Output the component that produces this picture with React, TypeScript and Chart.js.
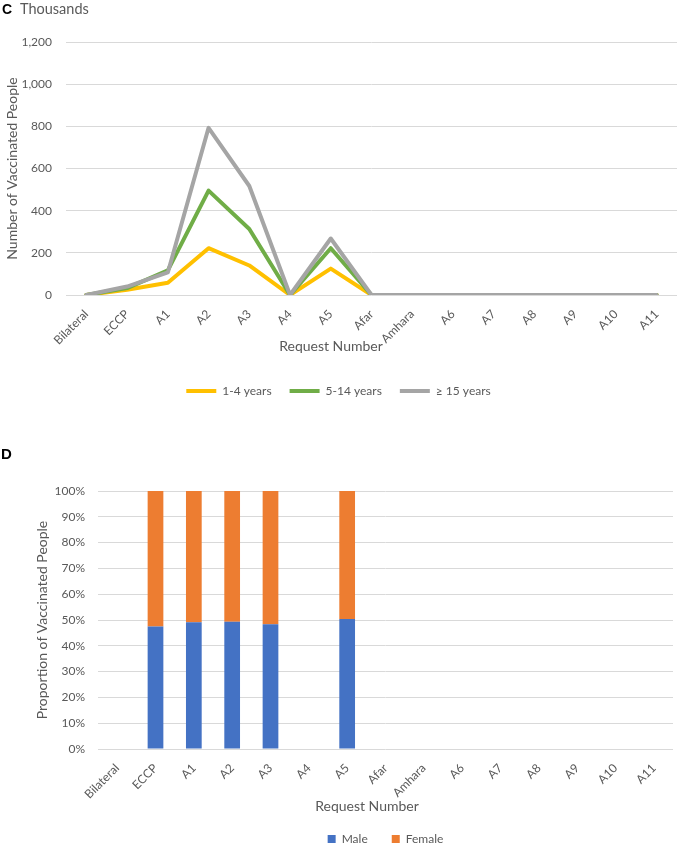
import React, { useEffect, useRef } from 'react';
import { Chart, registerables } from 'chart.js';

Chart.register(...registerables);

// ---------- data ----------
const categories = ['Bilateral', 'ECCP', 'A1', 'A2', 'A3', 'A4', 'A5', 'Afar', 'Amhara', 'A6', 'A7', 'A8', 'A9', 'A10', 'A11'];

// Panel C (thousands of people)
const age1to4 = [0, 25, 58, 222, 140, 0, 125, 0, 0, 0, 0, 0, 0, 0, 0];
const age5to14 = [0, 33, 117, 495, 313, 0, 222, 0, 0, 0, 0, 0, 0, 0, 0];
const age15plus = [0, 40, 107, 793, 517, 0, 268, 0, 0, 0, 0, 0, 0, 0, 0];
const countTicks = [0, 200, 400, 600, 800, 1000, 1200];
const lineSeriesNames = ['1-4 years', '5-14 years', '\u2265 15 years'];

// Panel D (percent)
const malePct = [null, 47.5, 49.1, 49.3, 48.4, null, 50.4, null, null, null, null, null, null, null, null];
const femalePct = [null, 52.5, 50.9, 50.7, 51.6, null, 49.6, null, null, null, null, null, null, null, null];
const pctTicks = [0, 10, 20, 30, 40, 50, 60, 70, 80, 90, 100];
const barSeriesNames = ['Male', 'Female'];

// ---------- styles ----------
const FONT = 'Lato';
const TEXT = '#595959';
const GRID = '#D9D9D9';

const extraText = {
  id: 'extraText',
  afterDraw(chart: any, _args: any, opts: any) {
    const ctx = chart.ctx;
    (opts.items || []).forEach((it: any) => {
      ctx.save();
      ctx.font = it.font;
      ctx.fillStyle = it.color;
      ctx.textAlign = 'center';
      ctx.textBaseline = 'middle';
      ctx.fillText(it.text, it.x, it.y);
      ctx.restore();
    });
  },
};

function legendLabelsNoStroke(chart: any) {
  const base = (Chart as any).defaults.plugins.legend.labels.generateLabels(chart);
  return base.map((l: any) => ({ ...l, lineWidth: 0 }));
}

function LineChartC() {
  const ref = useRef<HTMLCanvasElement | null>(null);
  useEffect(() => {
    if (!ref.current) return;
    const colors = ['#FFC000', '#70AD47', '#A5A5A5'];
    const series = [age1to4, age5to14, age15plus];
    const chart = new Chart(ref.current, {
      type: 'line',
      data: {
        labels: categories,
        datasets: series.map((d, i) => ({
          label: lineSeriesNames[i],
          data: d,
          borderColor: colors[i],
          backgroundColor: colors[i],
          borderWidth: 4,
          pointRadius: 0,
          pointHoverRadius: 0,
          tension: 0,
          borderJoinStyle: 'round',
          borderCapStyle: 'round',
          order: 2 - i,
          fill: false,
        })),
      },
      options: {
        responsive: false,
        animation: false,
        layout: { padding: { top: 42, right: 3, left: 0, bottom: 3 } },
        scales: {
          x: {
            type: 'category',
            offset: true,
            grid: { display: false, drawTicks: false },
            border: { display: false },
            ticks: {
              autoSkip: false,
              minRotation: 45,
              maxRotation: 45,
              padding: 12,
              color: TEXT,
              font: { family: FONT, size: 12 },
            },
            afterFit: (s: any) => { s.height = 72; },
          },
          y: {
            min: 0,
            max: 1200,
            afterBuildTicks: (s: any) => { s.ticks = countTicks.map((v) => ({ value: v })); },
            grid: { color: GRID, lineWidth: 1, drawTicks: false },
            border: { display: false },
            ticks: {
              padding: 14,
              color: TEXT,
              font: { family: FONT, size: 12 },
              callback: (v: any) => Number(v).toLocaleString('en-US'),
            },
            title: {
              display: true,
              text: 'Number of Vaccinated People',
              color: TEXT,
              font: { family: FONT, size: 14 },
              padding: { top: 3.6, bottom: 0 },
            },
            afterFit: (s: any) => { s.width = 66; },
          },
        },
        plugins: {
          legend: {
            position: 'bottom',
            fullSize: true,
            maxHeight: 44,
            labels: {
              boxWidth: 30,
              boxHeight: 4,
              padding: 18,
              color: TEXT,
              font: { family: FONT, size: 12 },
              sort: (a: any, b: any) => a.datasetIndex - b.datasetIndex,
              generateLabels: legendLabelsNoStroke,
            },
          },
          tooltip: { enabled: false },
          extraText: {
            items: [{ text: 'Request Number', x: 331, y: 346, font: `14px ${FONT}`, color: TEXT }],
          },
        } as any,
      } as any,
      plugins: [extraText],
    });
    return () => chart.destroy();
  }, []);
  return <canvas ref={ref} width={680} height={410} style={{ position: 'absolute', left: 0, top: 0 }} />;
}

function BarChartD() {
  const ref = useRef<HTMLCanvasElement | null>(null);
  useEffect(() => {
    if (!ref.current) return;
    const colors = ['#4472C4', '#ED7D31'];
    const series = [malePct, femalePct];
    const chart = new Chart(ref.current, {
      type: 'bar',
      data: {
        labels: categories,
        datasets: series.map((d, i) => ({
          label: barSeriesNames[i],
          data: d,
          backgroundColor: colors[i],
          borderWidth: 0,
          categoryPercentage: 1,
          barPercentage: 0.41,
        })),
      },
      options: {
        responsive: false,
        animation: false,
        layout: { padding: { top: 81, right: 7, left: 0, bottom: 0 } },
        scales: {
          x: {
            stacked: true,
            grid: { display: false, drawTicks: false },
            border: { display: false },
            ticks: {
              autoSkip: false,
              minRotation: 45,
              maxRotation: 45,
              padding: 12,
              color: TEXT,
              font: { family: FONT, size: 12 },
            },
            afterFit: (s: any) => { s.height = 60; },
          },
          y: {
            stacked: true,
            min: 0,
            max: 100,
            afterBuildTicks: (s: any) => { s.ticks = pctTicks.map((v) => ({ value: v })); },
            grid: { color: GRID, lineWidth: 1, drawTicks: false },
            border: { display: false },
            ticks: {
              padding: 13,
              color: TEXT,
              font: { family: FONT, size: 12 },
              callback: (v: any) => `${v}%`,
            },
            title: {
              display: true,
              text: 'Proportion of Vaccinated People',
              color: TEXT,
              font: { family: FONT, size: 14 },
              padding: { top: 33.6, bottom: 0 },
            },
            afterFit: (s: any) => { s.width = 98; },
          },
        },
        plugins: {
          legend: {
            position: 'bottom',
            fullSize: false,
            maxHeight: 38,
            labels: {
              boxWidth: 8,
              boxHeight: 8,
              padding: 24,
              color: TEXT,
              font: { family: FONT, size: 12 },
              generateLabels: legendLabelsNoStroke,
            },
          },
          tooltip: { enabled: false },
          extraText: {
            items: [{ text: 'Request Number', x: 367, y: 396, font: `14px ${FONT}`, color: TEXT }],
          },
        } as any,
      } as any,
      plugins: [extraText],
    });
    return () => chart.destroy();
  }, []);
  return <canvas ref={ref} width={680} height={437} style={{ position: 'absolute', left: 0, top: 410 }} />;
}

export default function App() {
  return (
    <div style={{ position: 'absolute', left: 0, top: 0, width: 680, height: 847, background: '#fff', overflow: 'hidden' }}>
      <LineChartC />
      <BarChartD />
      <div style={{ position: 'absolute', left: 2, top: 2, font: 'bold 14px "Liberation Sans", Arial, sans-serif', lineHeight: '14px', color: '#000' }}>C</div>
      <div style={{ position: 'absolute', left: 20, top: 1, font: `14.5px ${FONT}`, lineHeight: '15px', color: TEXT }}>Thousands</div>
      <div style={{ position: 'absolute', left: 1, top: 446, font: 'bold 15px "Liberation Sans", Arial, sans-serif', lineHeight: '15px', color: '#000' }}>D</div>
    </div>
  );
}
